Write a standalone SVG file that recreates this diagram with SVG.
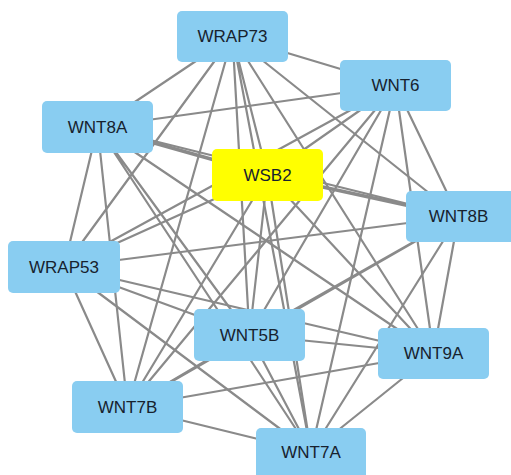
<svg xmlns="http://www.w3.org/2000/svg" width="511" height="475" viewBox="0 0 511 475">
<style>
.e{stroke:#8a8a8a;stroke-width:2.2;fill:none}
.n rect{fill:#89cdf1}
.n text{font-family:"Liberation Sans",Arial,sans-serif;font-size:17px;fill:#17222e;text-anchor:middle;dominant-baseline:central}
</style>
<rect width="511" height="475" fill="#fff"/>
<g id="connectors">
<path class="e" d="M232.5,36.5L395.5,85.5M232.5,36.5L97.5,127M232.5,36.5L267.5,175M232.5,36.5L458.5,216.5M232.5,36.5L64,267M232.5,36.5L249.5,335M232.5,36.5L433.5,353.5M232.5,36.5L127.5,407M232.5,36.5L311,452"/>
<path class="e" d="M395.5,85.5L97.5,127M395.5,85.5L267.5,175M395.5,85.5L458.5,216.5M395.5,85.5L64,267M395.5,85.5L249.5,335M395.5,85.5L433.5,353.5M395.5,85.5L127.5,407M395.5,85.5L311,452"/>
<path class="e" d="M97.5,127L458.5,216.5M97.5,127L64,267M97.5,127L249.5,335M97.5,127L433.5,353.5M97.5,127L127.5,407M97.5,127L311,452"/>
<path class="e" d="M267.5,175L64,267M267.5,175L249.5,335M267.5,175L433.5,353.5M267.5,175L127.5,407M267.5,175L311,452"/>
<path class="e" d="M458.5,216.5L64,267M458.5,216.5L249.5,335M458.5,216.5L433.5,353.5M458.5,216.5L127.5,407M458.5,216.5L311,452"/>
<path class="e" d="M64,267L249.5,335M64,267L433.5,353.5M64,267L127.5,407M64,267L311,452"/>
<path class="e" d="M249.5,335L433.5,353.5M249.5,335L127.5,407M249.5,335L311,452"/>
<path class="e" d="M433.5,353.5L127.5,407M433.5,353.5L311,452M127.5,407L311,452"/>
<path class="e" style="stroke-width:3.5" d="M97.5,127L267.5,175M267.5,175L458.5,216.5"/>
</g>
<g id="WRAP73" class="n"><rect x="177" y="11" width="111" height="51" rx="5"/><text x="232.5" y="36.5">WRAP73</text></g>
<g id="WNT6" class="n"><rect x="340" y="60" width="111" height="51" rx="5"/><text x="395.5" y="85.5">WNT6</text></g>
<g id="WNT8A" class="n"><rect x="42" y="101" width="111" height="52" rx="5"/><text x="97.5" y="127">WNT8A</text></g>
<g id="WSB2" class="n"><rect x="212" y="149" width="111" height="52" rx="5" style="fill:#ffff00"/><text x="267.5" y="175">WSB2</text></g>
<g id="WNT8B" class="n"><rect x="406" y="191" width="111" height="51" rx="5"/><text x="458.5" y="216.5">WNT8B</text></g>
<g id="WRAP53" class="n"><rect x="8" y="241" width="112" height="52" rx="5"/><text x="64" y="267">WRAP53</text></g>
<g id="WNT5B" class="n"><rect x="194" y="309" width="111" height="52" rx="5"/><text x="249.5" y="335">WNT5B</text></g>
<g id="WNT9A" class="n"><rect x="378" y="328" width="111" height="51" rx="5"/><text x="433.5" y="353.5">WNT9A</text></g>
<g id="WNT7B" class="n"><rect x="72" y="381" width="111" height="52" rx="5"/><text x="127.5" y="407">WNT7B</text></g>
<g id="WNT7A" class="n"><rect x="256" y="428" width="110" height="51" rx="5"/><text x="311" y="452">WNT7A</text></g>
</svg>
